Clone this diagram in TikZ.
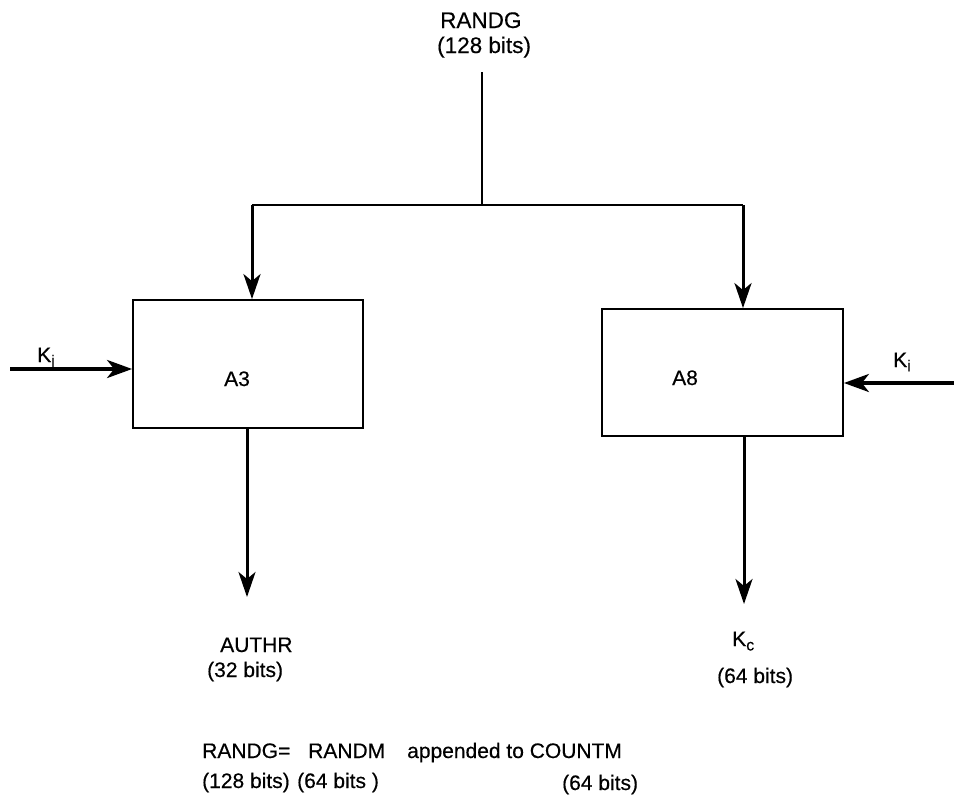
\documentclass[tikz,border=0pt]{standalone}
\usepackage{fontspec}
\setmainfont{Liberation Sans}[FakeBold=0.4]
\usetikzlibrary{arrows.meta}
\newcommand\subtxt[1]{\raisebox{-0.4ex}{\fontsize{16}{16}\selectfont #1}}
\begin{document}
\begin{tikzpicture}[x=1pt,y=-1pt,
  lbl/.style={inner sep=0pt, anchor=base west, font=\fontsize{21}{21}\selectfont},
  toplbl/.style={lbl, font=\fontsize{22.5}{22.5}\selectfont},
  blk/.style={draw, line width=1.8pt, inner sep=0pt},
  wire/.style={line width=2.2pt},
  flow/.style={line width=3pt, -{Stealth[length=25pt,width=17pt,inset=7pt]}},
  keyflow/.style={line width=3.6pt, -{Stealth[length=25pt,width=18pt,inset=7pt]}}]
\useasboundingbox (0,0) rectangle (954,803);
% boxes
\node[blk, minimum width=230pt, minimum height=128pt] (a3) at (248,364) {};
\node[blk, minimum width=241pt, minimum height=127pt] (a8) at (722.5,372.5) {};
\node[lbl] (a3t) at (224,386) {A3};
\node[lbl] (a8t) at (672,385) {A8};
% top input
\node[toplbl] (randg) at (440,28) {RANDG};
\node[toplbl] (randgb) at (437,53) {(128 bits)};
\coordinate (top) at (482,72);
\coordinate (split) at (482,205);
\coordinate (lc) at (252,205);
\coordinate (rc) at (743,205);
\draw[wire] (top) -- (split);
\draw[wire] (lc) -- (rc);
\draw[flow] (lc) -- (a3.north -| lc);
\draw[flow] (rc) -- (a8.north -| rc);
% key inputs
\coordinate (kil) at (10,369);
\coordinate (kir) at (954,383);
\draw[keyflow] (kil) -- (a3.west |- kil);
\draw[keyflow] (kir) -- (a8.east |- kir);
\node[lbl] (kjl) at (37,362) {K\subtxt{j}};
\node[lbl] (kir2) at (893,367) {K\subtxt{i}};
% outputs
\coordinate (authrtip) at (247,597);
\coordinate (kctip) at (744,604);
\draw[flow] (a3.south -| authrtip) -- (authrtip);
\draw[flow] (a8.south -| kctip) -- (kctip);
\node[lbl] (authr) at (220,652) {AUTHR};
\node[lbl] (authrb) at (207,677) {(32 bits)};
\node[lbl] (kc) at (732,646) {K\subtxt{c}};
\node[lbl] (kcb) at (717,683) {(64 bits)};
% footnote
\node[lbl] (f1) at (202,758) {RANDG=};
\node[lbl] (f2) at (308,758) {RANDM};
\node[lbl] (f3) at (407,758) {appended to COUNTM};
\node[lbl] (g1) at (202,788) {(128 bits)};
\node[lbl] (g2) at (297,788) {(64 bits )};
\node[lbl] (g3) at (562,790) {(64 bits)};
\end{tikzpicture}
\end{document}
